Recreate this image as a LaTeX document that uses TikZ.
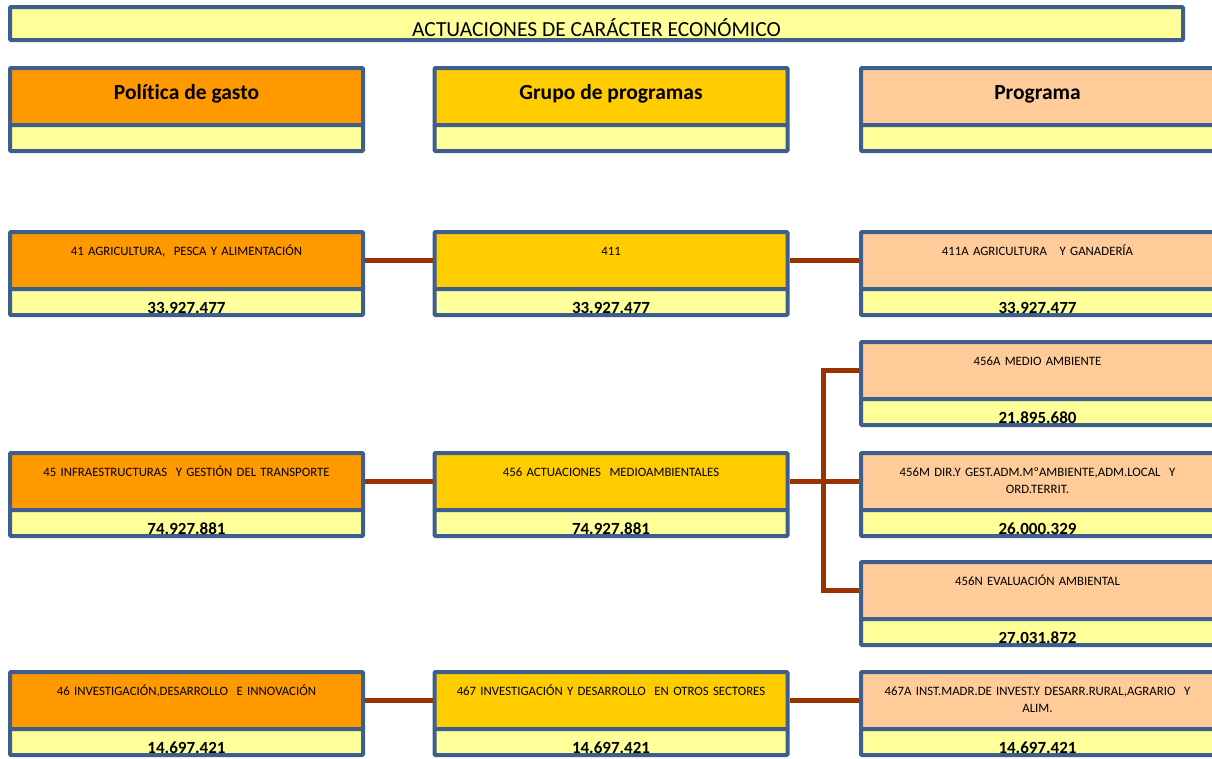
\documentclass[tikz,border=0pt]{standalone}
\usepackage{fontspec}
\setmainfont{Carlito}[Ligatures=NoCommon]
\usetikzlibrary{positioning}

\definecolor{frame}{RGB}{62,94,142}
\definecolor{paleyellow}{RGB}{255,255,153}
\definecolor{polorange}{RGB}{255,153,0}
\definecolor{grpgold}{RGB}{255,204,0}
\definecolor{prgpeach}{RGB}{255,204,153}
\definecolor{linkred}{RGB}{153,51,0}

\begin{document}
\begin{tikzpicture}[x=1pt,y=-1pt,
	box/.style={draw=frame,line width=4pt,rounded corners=1pt,outer sep=0pt,inner sep=0pt,minimum width=353pt},
	head/.style={box,text height=31pt,text depth=26pt,font=\bfseries\fontsize{21.5}{24}\selectfont},
	card/.style={box,text width=340pt,align=center,text height=23pt,text depth=34pt,font=\fontsize{12.8}{17}\selectfont},
	strip/.style={box,fill=paleyellow,text height=24.5pt,text depth=1.5pt,font=\bfseries\fontsize{17}{19}\selectfont},
	link/.style={draw=linkred,line width=5pt,shorten <=2pt,shorten >=2pt}]
	\useasboundingbox (0,0) rectangle (1212,758);

	\node[box,fill=paleyellow,minimum width=1173pt,text height=29.5pt,text depth=3.5pt,font=\fontsize{21.5}{24}\selectfont] (title) at (596.5,23.5) {ACTUACIONES DE CARÁCTER ECONÓMICO};

	% cabeceras
	\node[head,fill=polorange,anchor=north]		(hPol)		at (186.5,68)	{Política de gasto};
	\node[strip,below=0pt of hPol]				(hPolv)		{};
	\node[head,fill=grpgold,right=71.5pt of hPol]	(hGrp)		{Grupo de programas};
	\node[strip,below=0pt of hGrp]				(hGrpv)		{};
	\node[head,fill=prgpeach,right=73.5pt of hGrp]	(hPrg)		{Programa};
	\node[strip,below=0pt of hPrg]				(hPrgv)		{};

	% 41
	\node[card,fill=polorange,anchor=north]		(pol41)		at (186.5,232)	{41 AGRICULTURA,\ \ PESCA Y ALIMENTACIÓN};
	\node[strip,below=0pt of pol41]				(pol41v)	{33.927.477};
	\node[card,fill=grpgold,right=71.5pt of pol41]	(grp411)	{411};
	\node[strip,below=0pt of grp411]			(grp411v)	{33.927.477};
	\node[card,fill=prgpeach,right=73.5pt of grp411]	(prg411A)	{411A AGRICULTURA\ \ \ Y GANADERÍA};
	\node[strip,below=0pt of prg411A]			(prg411Av)	{33.927.477};

	% 45
	\node[card,fill=polorange,anchor=north]		(pol45)		at (186.5,453)	{45 INFRAESTRUCTURAS\ \ Y GESTIÓN DEL TRANSPORTE};
	\node[strip,below=0pt of pol45]				(pol45v)	{74.927.881};
	\node[card,fill=grpgold,right=71.5pt of pol45]	(grp456)	{456 ACTUACIONES\ \ MEDIOAMBIENTALES};
	\node[strip,below=0pt of grp456]			(grp456v)	{74.927.881};
	\node[card,fill=prgpeach,anchor=north]		(prg456A)	at (1037.5,342)	{456A MEDIO AMBIENTE};
	\node[strip,below=0pt of prg456A]			(prg456Av)	{21.895.680};
	\node[card,fill=prgpeach,right=73.5pt of grp456]	(prg456M)	{456M DIR.Y GEST.ADM.MºAMBIENTE,ADM.LOCAL\ \ Y\\ORD.TERRIT.};
	\node[strip,below=0pt of prg456M]			(prg456Mv)	{26.000.329};
	\node[card,fill=prgpeach,anchor=north]		(prg456N)	at (1037.5,562)	{456N EVALUACIÓN AMBIENTAL};
	\node[strip,below=0pt of prg456N]			(prg456Nv)	{27.031.872};

	% 46
	\node[card,fill=polorange,anchor=north]		(pol46)		at (186.5,672)	{46 INVESTIGACIÓN,DESARROLLO\ \ E INNOVACIÓN};
	\node[strip,below=0pt of pol46]				(pol46v)	{14.697.421};
	\node[card,fill=grpgold,right=71.5pt of pol46]	(grp467)	{467 INVESTIGACIÓN Y DESARROLLO\ \ EN OTROS SECTORES};
	\node[strip,below=0pt of grp467]			(grp467v)	{14.697.421};
	\node[card,fill=prgpeach,right=73.5pt of grp467]	(prg467A)	{467A INST.MADR.DE INVEST.Y DESARR.RURAL,AGRARIO\ \ Y\\ALIM.};
	\node[strip,below=0pt of prg467A]			(prg467Av)	{14.697.421};

	\draw[link] (pol41) -- (grp411);
	\draw[link] (grp411) -- (prg411A);
	\draw[link] (pol45) -- (grp456);
	\draw[link] (grp456) -- (prg456M);
	\draw[link] (prg456A.west) -| ([xshift=-38pt]prg456M.west) |- (prg456N.west);
	\draw[link] (pol46) -- (grp467);
	\draw[link] (grp467) -- (prg467A);
\end{tikzpicture}
\end{document}
